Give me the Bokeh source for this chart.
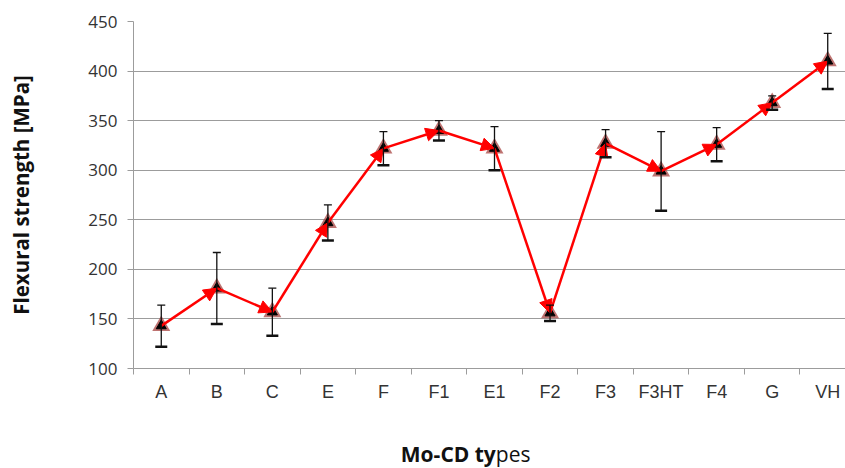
from bokeh.plotting import figure
from bokeh.layouts import column
from bokeh.models import (ColumnDataSource, Range1d, FixedTicker, Whisker, TeeHead,
                          Arrow, NormalHead)
from bokeh.core.properties import value
from bokeh.embed import file_html
from bokeh.resources import INLINE

# ---- data ----
categories = ["A", "B", "C", "E", "F", "F1", "E1", "F2", "F3", "F3HT", "F4", "G", "VH"]
strength = [143, 181, 157, 247, 322, 340, 322, 156, 327, 299, 326, 368, 410]
std_dev = [21, 36, 24, 18, 17, 10, 22, 8, 14, 40, 17, 7, 28]
y_ticks = [100, 150, 200, 250, 300, 350, 400, 450]
y_title = "Flexural strength [MPa]"
x_title_bold = "Mo-CD ty"
x_title_rest = "pes"

xs = [i + 0.5 for i in range(len(categories))]
src = ColumnDataSource(dict(
    x=xs, y=strength,
    upper=[v + e for v, e in zip(strength, std_dev)],
    lower=[v - e for v, e in zip(strength, std_dev)],
))
arr_src = ColumnDataSource(dict(
    x0=xs[:-1], y0=strength[:-1], x1=xs[1:], y1=strength[1:],
))

p = figure(width=845, height=420, output_backend="svg", toolbar_location=None,
           x_range=Range1d(0, 12.82), y_range=Range1d(100, 450),
           min_border_left=133, min_border_right=0, min_border_top=21,
           min_border_bottom=52)
p.outline_line_color = None
p.background_fill_color = "white"
p.border_fill_color = "white"

GRAY = "#9c9c9c"
# y axis
p.yaxis.ticker = FixedTicker(ticks=y_ticks)
p.yaxis.axis_line_color = GRAY
p.yaxis.major_tick_line_color = GRAY
p.yaxis.major_tick_out = 6
p.yaxis.major_tick_in = 0
p.yaxis.minor_tick_line_color = None
p.yaxis.major_label_text_font = "Open Sans"
p.yaxis.major_label_text_font_size = "17px"
p.yaxis.major_label_text_color = "#333333"
p.yaxis.major_label_standoff = 10
p.yaxis.axis_label = y_title
p.yaxis.axis_label_text_font = "Open Sans"
p.yaxis.axis_label_text_font_style = "bold"
p.yaxis.axis_label_text_font_size = "20.5px"
p.yaxis.axis_label_text_color = "#111111"
p.yaxis.axis_label_standoff = 50

# x axis
p.xaxis.ticker = FixedTicker(ticks=xs, minor_ticks=list(range(len(categories) + 1)))
p.xaxis.major_label_overrides = {x: c for x, c in zip(xs, categories)}
p.xaxis.axis_line_color = GRAY
p.xaxis.major_tick_line_color = None
p.xaxis.major_tick_out = 0
p.xaxis.major_tick_in = 0
p.xaxis.minor_tick_line_color = GRAY
p.xaxis.minor_tick_out = 6
p.xaxis.minor_tick_in = 0
p.xaxis.major_label_text_font = "Liberation Sans"
p.xaxis.major_label_text_font_size = "18px"
p.xaxis.major_label_text_color = "#333333"
p.xaxis.major_label_standoff = 7

p.xgrid.grid_line_color = None
p.ygrid.grid_line_color = GRAY
p.ygrid.grid_line_width = 1.2

# arrows (red line with heads)
p.add_layout(Arrow(end=NormalHead(size=13, fill_color="#ff0000", line_color="#ff0000"),
                   x_start="x0", y_start="y0", x_end="x1", y_end="y1",
                   source=arr_src, line_color="#ff0000", line_width=2.5))

# markers
p.scatter("x", "y", source=src, marker="triangle", size=18,
          fill_color="#a84442", fill_alpha=0.75, line_color=None)
p.scatter("x", "y", source=src, marker="triangle", size=10,
          fill_color="black", line_color="black")

# error bars
p.add_layout(Whisker(base="x", upper="upper", lower="lower", source=src,
                     line_color="#111111", line_width=1.3, level="overlay",
                     upper_head=TeeHead(size=8, line_color="#111111", line_width=1.3),
                     lower_head=TeeHead(size=12, line_color="#111111", line_width=2.5)))

# x title strip (mixed weight as in the reference)
t = figure(width=845, height=48, output_backend="svg", toolbar_location=None,
           x_range=Range1d(0, 845), y_range=Range1d(0, 48),
           min_border=0, min_border_left=0, min_border_right=0,
           min_border_top=0, min_border_bottom=0,
           x_axis_type=None, y_axis_type=None)
t.outline_line_color = None
t.grid.grid_line_color = None
t.border_fill_color = "white"
t.text(x=[430], y=[15], text=[x_title_bold], text_align="right", text_baseline="middle",
       text_font=value("Open Sans"), text_font_style="bold", text_font_size="21px",
       text_color="#111111")
t.text(x=[430], y=[15], text=[x_title_rest], text_align="left", text_baseline="middle",
       text_font=value("Open Sans"), text_font_size="21px", text_color="#111111")

layout = column(p, t, spacing=0)
open("out.html", "w").write(file_html(layout, INLINE))
